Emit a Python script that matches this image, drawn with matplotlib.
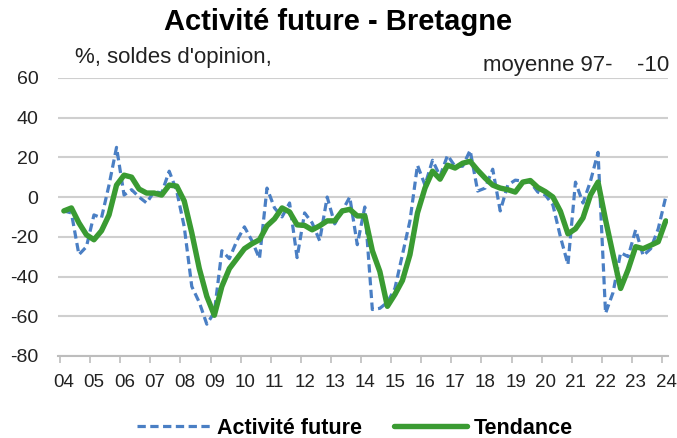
import matplotlib
matplotlib.use("Agg")
import matplotlib.pyplot as plt
import matplotlib.transforms as mtransforms
import numpy as np

# Quarterly data 2004Q1 .. 2024Q1
start_year = 2004
activite_future = [
    -7, -8, -29, -25, -9, -10.5, 6, 25,
    1, 3.7, 0, -3, 2.8, 2, 13, 3,
    -15, -45, -53, -64, -58, -27, -31, -22,
    -15, -22, -31, 4.5, -5.5, -10, -3, -30.5,
    -8, -13, -22, 0, -13.5, -7, 0, -24,
    -5, -56.6, -56, -53, -46, -29, -12, 16,
    6, 18.5, 10.5, 21, 15.4, 15.5, 23.5, 3,
    4.5, 14, -7, 6, 8.5, 8, 7.5, 2.5,
    1, -4, -20, -34, 7.5, -3, 8, 22.5,
    -58.5, -48, -28, -30, -16.5, -29.5, -26, -16,
    0,
]
tendance = [
    -7, -5.5, -13, -19, -21.5, -17, -9, 6,
    11, 10, 4, 2, 2, 1, 6, 5.5,
    -2, -18, -36, -50, -59.5, -45, -36, -31,
    -26, -23.5, -21.5, -14.5, -11, -5.5, -7.5, -14,
    -14.3, -16.5, -14.5, -12, -12, -7, -6.2, -9.5,
    -9.5, -27, -37.5, -55, -49, -42, -29, -8,
    4.5, 13, 9, 16, 14.6, 17, 18, 13.5,
    9.5, 6, 4.5, 3.7, 2.5, 7.5, 8.3, 4.8,
    2.7, 0, -7.2, -18.5, -16, -10.5, 1, 7.5,
    -11.5, -29, -46, -36.5, -25, -26, -24.3, -22.5,
    -12,
]
year_labels = ["04", "05", "06", "07", "08", "09", "10", "11", "12", "13", "14",
               "15", "16", "17", "18", "19", "20", "21", "22", "23", "24"]
y_ticks = [60, 40, 20, 0, -20, -40, -60, -80]

t = start_year + 0.125 + np.arange(len(tendance)) * 0.25
years = start_year + np.arange(len(year_labels))

FONT = ["Liberation Sans", "DejaVu Sans"]
plt.rcParams["font.family"] = FONT

fig = plt.figure(figsize=(6.77, 4.38), dpi=100)
ax = fig.add_axes([58 / 677, 1 - 356 / 438, (668 - 58) / 677, (356 - 77.8) / 438])

blue = "#4a7fc4"
green = "#3a9b32"

ax.plot(t, activite_future, color=blue, lw=2.3, dashes=(2.6, 1.4),
        label="Activité future", zorder=3)
ax.plot(t, tendance, color=green, lw=3.9, label="Tendance", zorder=4,
        solid_joinstyle="round", solid_capstyle="round")

ax.set_ylim(-80, 60)
ax.set_xlim(2003.93, 2024.2)
ax.set_yticks(y_ticks)
ax.set_yticklabels([str(v) for v in y_ticks])
ax.yaxis.grid(True, color="#cfcfcf", lw=1.5)
ax.set_axisbelow(True)
ax.set_xticks(years)
ax.set_xticklabels(year_labels)

for s in ["top", "right", "left"]:
    ax.spines[s].set_visible(False)
ax.spines["bottom"].set_color("#bdbdbd")
ax.spines["bottom"].set_linewidth(1.5)
ax.tick_params(axis="x", direction="out", length=5, width=1.2, color="#bdbdbd",
               labelsize=13.5, pad=8, labelcolor="#222222")
ax.tick_params(axis="y", length=0, labelsize=14, pad=14, labelcolor="#222222")

offset = mtransforms.ScaledTranslation(4 / 100, 0, fig.dpi_scale_trans)
for lab in ax.get_xticklabels():
    lab.set_transform(lab.get_transform() + offset)

fig.text(338 / 677, 1 - 22 / 438, "Activité future - Bretagne", ha="center", va="center",
         fontsize=21, fontweight="bold")
fig.text(75 / 677, 1 - 58 / 438, "%, soldes d'opinion,", ha="left", va="center",
         fontsize=16, color="#222222")
fig.text(669 / 677, 1 - 66 / 438, "moyenne 97-    -10", ha="right", va="center",
         fontsize=16, color="#222222")

leg = fig.legend(loc="center", bbox_to_anchor=(355 / 677, 1 - 428 / 438), ncol=2,
                 frameon=False, handlelength=3.4, columnspacing=1.5,
                 handletextpad=0.3, prop={"weight": "bold", "size": 15.5})

fig.savefig("out.png", dpi=100)
